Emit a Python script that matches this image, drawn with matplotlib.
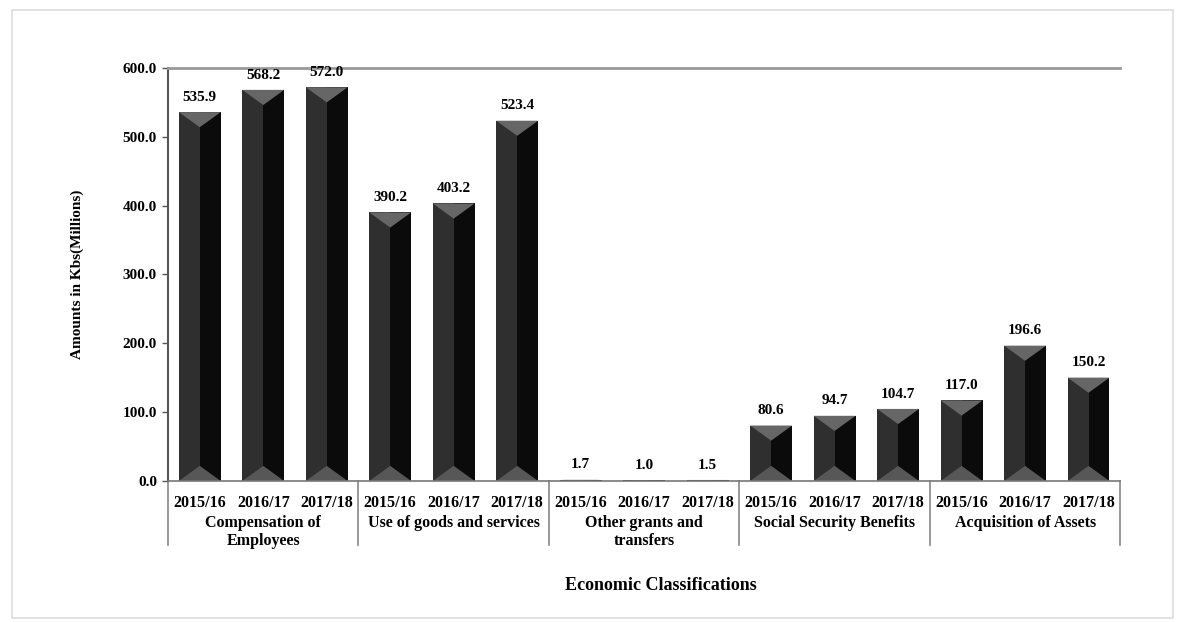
"""
Expenditure by economic classification, 2015/16 - 2017/18
"""
import matplotlib
matplotlib.use('Agg')
from matplotlib import pyplot as plt
from matplotlib.patches import Polygon, Rectangle
import matplotlib.transforms as mtransforms

plt.rcParams['font.family'] = ['Liberation Serif', 'DejaVu Serif']
plt.rcParams['font.weight'] = 'bold'

## Data
years = ['2015/16', '2016/17', '2017/18']
groups = ['Compensation of\nEmployees', 'Use of goods and services',
          'Other grants and\ntransfers', 'Social Security Benefits',
          'Acquisition of Assets']
compensation = [535.9, 568.2, 572.0]
goods_services = [390.2, 403.2, 523.4]
other_grants = [1.7, 1.0, 1.5]
social_security = [80.6, 94.7, 104.7]
acquisition = [117.0, 196.6, 150.2]

series = [compensation, goods_services, other_grants, social_security, acquisition]
values = [v for s in series for v in s]
ticklabels = years * len(groups)

fig = plt.figure(figsize=(11.8, 6.22), dpi=100)
ax = fig.add_axes([0.1424, 0.2267, 0.807, 0.664])

# Bevelled bars: two shaded halves plus a light triangle top and bottom
half = 0.33
bevel = 22.0
for i, v in enumerate(values):
    b = min(bevel, v / 2.0)
    ax.add_patch(Rectangle((i - half, 0), half, v, fc='#2f2f2f', ec='none'))
    ax.add_patch(Rectangle((i, 0), half, v, fc='#0b0b0b', ec='none'))
    ax.add_patch(Polygon([(i - half, v), (i + half, v), (i, v - b)],
                         closed=True, fc='#666666', ec='none'))
    ax.add_patch(Polygon([(i - half, 0), (i + half, 0), (i, b)],
                         closed=True, fc='#575757', ec='none'))
    ax.annotate(f'{v:.1f}', xy=(i, v), xytext=(0, 6), textcoords='offset points',
                ha='center', va='bottom', fontsize=11, fontweight='bold')

ax.set_xlim(-0.5, len(values) - 0.5)
ax.set_ylim(0, 600)
ax.set_yticks(range(0, 601, 100))
ax.set_yticklabels([f'{t:.1f}' for t in range(0, 601, 100)], fontsize=11)
ax.set_xticks(range(len(values)))
ax.set_xticklabels(ticklabels, fontsize=11.5)
ax.tick_params(axis='x', length=0, pad=10)
ax.tick_params(axis='y', length=4, width=1, color='#555555', pad=4)

ax.spines['right'].set_visible(False)
ax.spines['top'].set_color('#999999')
ax.spines['top'].set_linewidth(2)
ax.spines['left'].set_color('#555555')
ax.spines['left'].set_linewidth(1.5)
ax.spines['bottom'].set_color('#777777')
ax.spines['bottom'].set_linewidth(1.2)

# Group separators and group names under the year labels
trans = mtransforms.blended_transform_factory(ax.transData, ax.transAxes)
for k in range(len(groups) + 1):
    x = 3 * k - 0.5
    ax.plot([x, x], [0, -0.155], transform=trans, color='#888888', lw=1.2, clip_on=False)
for k, name in enumerate(groups):
    ax.text(3 * k + 1, -0.082, name, transform=trans, ha='center', va='top',
            fontsize=11.5, fontweight='bold', linespacing=1.2)

ax.set_ylabel('Amounts in Kbs(Millions)', fontsize=11, fontweight='bold', labelpad=28)
fig.text(0.56, 0.058, 'Economic Classifications', ha='center', va='center',
         fontsize=13, fontweight='bold')

# Light outer frame of the chart area
fig.add_artist(Rectangle((0.010, 0.007), 0.984, 0.977, transform=fig.transFigure,
                         fill=False, ec='#dddddd', lw=1.2))

fig.savefig('out.png', dpi=100)
